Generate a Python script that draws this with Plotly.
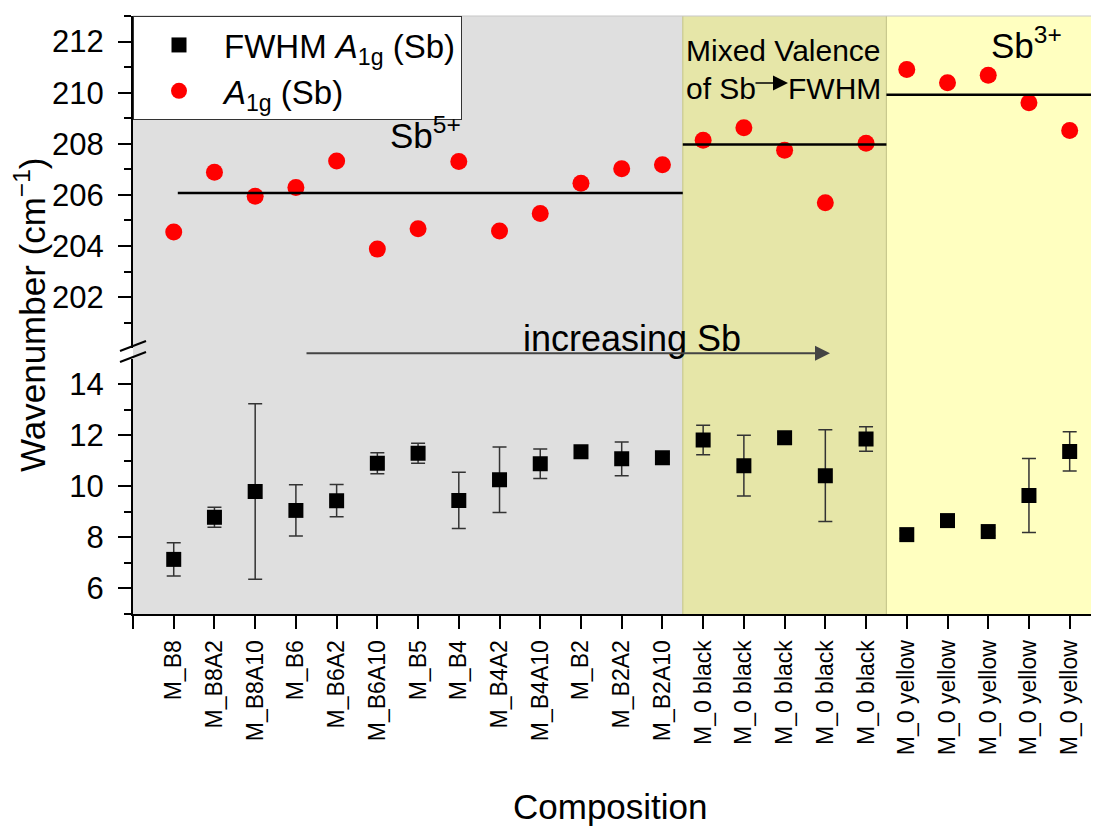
import plotly.graph_objects as go

# ---------------- data ----------------
categories = ["M_B8", "M_B8A2", "M_B8A10", "M_B6", "M_B6A2", "M_B6A10", "M_B5", "M_B4",
              "M_B4A2", "M_B4A10", "M_B2", "M_B2A2", "M_B2A10",
              "M_0 black", "M_0 black", "M_0 black", "M_0 black", "M_0 black",
              "M_0 yellow", "M_0 yellow", "M_0 yellow", "M_0 yellow", "M_0 yellow"]

a1g = [204.55, 206.89, 205.95, 206.29, 207.33, 203.88, 204.68, 207.31,
       204.59, 205.27, 206.46, 207.02, 207.18,
       208.14, 208.63, 207.75, 205.69, 208.02,
       210.91, 210.39, 210.68, 209.61, 208.52]

fwhm = [7.14, 8.79, 9.80, 9.06, 9.44, 10.91, 11.30, 9.45,
        10.26, 10.89, 11.36, 11.08, 11.12,
        11.82, 10.81, 11.91, 10.42, 11.86,
        8.11, 8.66, 8.23, 9.64, 11.37]

fwhm_err = [0.65, 0.39, 3.44, 1.00, 0.63, 0.41, 0.39, 1.10,
            1.28, 0.58, 0.15, 0.66, 0.15,
            0.58, 1.19, 0.22, 1.80, 0.48,
            0.15, 0.15, 0.15, 1.45, 0.77]

# valence regions (category index bounds) and their reference levels
region_names = ["Sb5+", "Mixed", "Sb3+"]
region_bounds = [(-1.0, 12.5), (12.5, 17.5), (17.5, 22.72)]
region_colors = ["#dfdfdf", "#e6e6a8", "#ffffc0"]
level_values = [206.08, 207.97, 209.92]
level_x = [(0.1, 12.5), (12.5, 17.5), (17.5, 22.72)]

x_idx = list(range(len(categories)))

FONT = "Liberation Sans, Arial, sans-serif"

# ---------------- layout helpers (window pixel -> paper) ----------------
OFF = 8  # page body margin
WIN_W, WIN_H = 1099, 827
W, H = WIN_W - OFF, WIN_H - OFF
PL, PR, PT, PB = 133, 1099, 16, 614  # plot area in window pixels
L, T = PL - OFF, PT - OFF
R = 0
B = H - (PB - OFF)
PW, PH = PR - PL, PB - PT


def px(xp):
    return (xp - PL) / PW


def py(yp):
    return (PB - yp) / PH


fig = go.Figure()

# FWHM (lower axis)
fig.add_trace(go.Scatter(
    x=x_idx, y=fwhm, mode="markers", name="FWHM <i>A</i><sub>1g</sub> (Sb)",
    marker=dict(symbol="square", size=15, color="black"),
    error_y=dict(type="data", array=fwhm_err, visible=True, color="#333333",
                 thickness=1.5, width=7),
    xaxis="x", yaxis="y",
))

# A1g (upper axis)
fig.add_trace(go.Scatter(
    x=x_idx, y=a1g, mode="markers", name="<i>A</i><sub>1g</sub> (Sb)",
    marker=dict(symbol="circle", size=17, color="#ff0000"),
    xaxis="x", yaxis="y2",
))

# level lines
for (x0, x1), lv in zip(level_x, level_values):
    fig.add_trace(go.Scatter(
        x=[x0, x1], y=[lv, lv], mode="lines", line=dict(color="black", width=2.5),
        showlegend=False, hoverinfo="skip", xaxis="x", yaxis="y2",
    ))

# background regions
shapes = []
for (x0, x1), col in zip(region_bounds, region_colors):
    shapes.append(dict(type="rect", xref="x", yref="paper", x0=x0, x1=x1, y0=0, y1=1,
                       fillcolor=col, line=dict(width=0), layer="below"))
# olive region border lines
for xb in (12.5, 17.5):
    shapes.append(dict(type="line", xref="x", yref="paper", x0=xb, x1=xb, y0=0, y1=1,
                       line=dict(color="#c9c98e", width=1.2), layer="below"))
# top frame line
shapes.append(dict(type="line", xref="paper", yref="paper", x0=0, x1=1, y0=1, y1=1,
                   line=dict(color="#c8c8c8", width=1.2)))
# axis break marks
for yoff in (-6, 5):
    shapes.append(dict(type="line", xref="paper", yref="paper",
                       x0=px(120), x1=px(146), y0=py(357 + yoff), y1=py(347 + yoff),
                       line=dict(color="black", width=2)))

upper_dom = [py(348.3), 1.0]
lower_dom = [0.0, py(358.8)]

tick_font = dict(family=FONT, size=31, color="black")

fig.update_layout(
    width=W, height=H,
    margin=dict(l=L, r=R, t=T, b=B),
    paper_bgcolor="white", plot_bgcolor="rgba(0,0,0,0)",
    font=dict(family=FONT, color="black"),
    shapes=shapes,
    showlegend=True,
    legend=dict(x=0, y=1, xanchor="left", yanchor="top", bgcolor="white",
                bordercolor="#333333", borderwidth=1,
                font=dict(family=FONT, size=33, color="black"),
                itemwidth=80, tracegroupgap=0),
    xaxis=dict(
        range=[-1, 22.72], tickmode="array",
        tickvals=[-1] + x_idx, ticktext=[""] + categories,
        tickangle=-90, tickfont=dict(family=FONT, size=23, color="black"),
        ticks="outside", ticklen=13, tickwidth=2, tickcolor="black",
        showline=True, linewidth=2, linecolor="black", showgrid=False,
        zeroline=False, anchor="y", ticklabelstandoff=2,
    ),
    yaxis=dict(
        domain=lower_dom, range=[5, 15], tickmode="array",
        tickvals=[6, 8, 10, 12, 14], tickfont=tick_font,
        ticks="outside", ticklen=13, tickwidth=2, tickcolor="black",
        minor=dict(tickmode="array", tickvals=[5, 7, 9, 11, 13], ticks="outside",
                   ticklen=7, tickwidth=2, tickcolor="black"),
        showline=True, linewidth=2, linecolor="black", showgrid=False,
        zeroline=False, anchor="x", ticklabelstandoff=8,
    ),
    yaxis2=dict(
        domain=upper_dom, range=[200, 213], tickmode="array",
        tickvals=[202, 204, 206, 208, 210, 212], tickfont=tick_font,
        ticks="outside", ticklen=13, tickwidth=2, tickcolor="black",
        minor=dict(tickmode="array", tickvals=[201, 203, 205, 207, 209, 211, 213],
                   ticks="outside", ticklen=7, tickwidth=2, tickcolor="black"),
        showline=True, linewidth=2, linecolor="black", showgrid=False,
        zeroline=False, anchor="x", ticklabelstandoff=8,
    ),
)

annotations = [
    dict(text="Wavenumber (cm<sup>\u22121</sup>)", x=px(30), y=py(315), textangle=-90,
         font=dict(size=35)),
    dict(text="Composition", x=px(610), y=py(806), font=dict(size=35)),
    dict(text="Sb<sup>5+</sup>", x=px(388), y=py(133), xanchor="left", font=dict(size=35)),
    dict(text="Sb<sup>3+</sup>", x=px(989), y=py(43), xanchor="left", font=dict(size=35)),
    dict(text="increasing Sb", x=px(632), y=py(338), font=dict(size=36)),
    dict(text="Mixed Valence", x=px(883), y=py(51), xanchor="right", font=dict(size=30)),
    dict(text="of Sb", x=px(684), y=py(88), xanchor="left", font=dict(size=30)),
    dict(text="FWHM", x=px(883), y=py(88), xanchor="right", font=dict(size=30)),
]
for a in annotations:
    a.update(xref="paper", yref="paper", showarrow=False)
    a.setdefault("xanchor", "center")
    a["yanchor"] = "middle"
    a["font"] = dict(family=FONT, color="black", size=a["font"]["size"])

# arrows
annotations.append(dict(text="", xref="paper", yref="paper", x=px(830), y=py(353.3),
                        axref="pixel", ayref="pixel", ax=-(830 - 305), ay=0,
                        showarrow=True, arrowhead=2, arrowsize=1.5, arrowwidth=2,
                        arrowcolor="#444444"))
annotations.append(dict(text="", xref="paper", yref="paper", x=px(788), y=py(83),
                        axref="pixel", ayref="pixel", ax=-(788 - 754), ay=0,
                        showarrow=True, arrowhead=2, arrowsize=2.0, arrowwidth=1.5,
                        arrowcolor="black"))
fig.update_layout(annotations=annotations)

fig.write_html("out.html")
